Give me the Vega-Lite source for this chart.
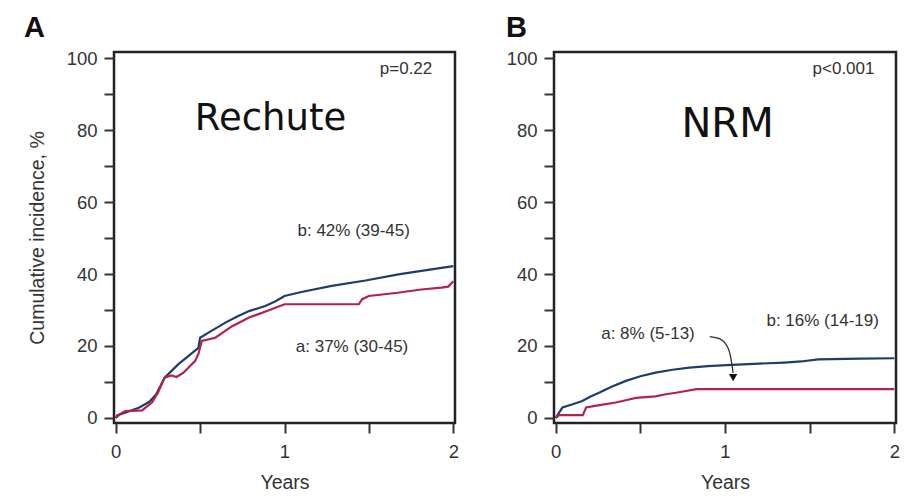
{
  "$schema": "https://vega.github.io/schema/vega-lite/v6.json",
  "background": "white",
  "padding": {"left": 22, "top": 12, "right": 0, "bottom": 0},
  "spacing": 44,
  "config": {
    "view": {"stroke": "#222", "strokeWidth": 2.5},
    "font": "Liberation Sans",
    "axis": {
      "domain": false, "grid": false,
      "tickColor": "#333", "tickWidth": 2, "tickSize": 10,
      "labelFont": "Liberation Sans", "labelFontSize": 18.5, "labelColor": "#333",
      "titleFont": "Liberation Sans", "titleFontSize": 19.5, "titleFontWeight": "normal", "titleColor": "#333"
    },
    "axisX": {"labelPadding": 9, "titlePadding": 13},
    "axisY": {"labelPadding": 7, "titlePadding": 19}
  },
  "datasets": {
    "curvesA": [
      {"g": "b", "t": 0, "ci": 0}, {"g": "b", "t": 0.01, "ci": 0.8}, {"g": "b", "t": 0.06, "ci": 1.5}, {"g": "b", "t": 0.14, "ci": 2.9}, {"g": "b", "t": 0.2, "ci": 4.5}, {"g": "b", "t": 0.24, "ci": 6.6}, {"g": "b", "t": 0.29, "ci": 11.2}, {"g": "b", "t": 0.37, "ci": 14.9}, {"g": "b", "t": 0.49, "ci": 19.5}, {"g": "b", "t": 0.5, "ci": 22.3}, {"g": "b", "t": 0.56, "ci": 24}, {"g": "b", "t": 0.65, "ci": 26.5}, {"g": "b", "t": 0.72, "ci": 28.2}, {"g": "b", "t": 0.79, "ci": 29.7}, {"g": "b", "t": 0.886, "ci": 31.1}, {"g": "b", "t": 0.95, "ci": 32.5}, {"g": "b", "t": 1.0, "ci": 33.9}, {"g": "b", "t": 1.1, "ci": 35}, {"g": "b", "t": 1.28, "ci": 36.7}, {"g": "b", "t": 1.48, "ci": 38.2}, {"g": "b", "t": 1.675, "ci": 39.9}, {"g": "b", "t": 1.87, "ci": 41.3}, {"g": "b", "t": 2.0, "ci": 42.2},
      {"g": "a", "t": 0, "ci": 0}, {"g": "a", "t": 0.03, "ci": 1.2}, {"g": "a", "t": 0.057, "ci": 1.9}, {"g": "a", "t": 0.156, "ci": 2.1}, {"g": "a", "t": 0.215, "ci": 4.3}, {"g": "a", "t": 0.25, "ci": 7}, {"g": "a", "t": 0.29, "ci": 11.2}, {"g": "a", "t": 0.33, "ci": 11.8}, {"g": "a", "t": 0.36, "ci": 11.4}, {"g": "a", "t": 0.4, "ci": 12.5}, {"g": "a", "t": 0.47, "ci": 15.8}, {"g": "a", "t": 0.49, "ci": 17.8}, {"g": "a", "t": 0.51, "ci": 21.4}, {"g": "a", "t": 0.59, "ci": 22.3}, {"g": "a", "t": 0.69, "ci": 25.5}, {"g": "a", "t": 0.79, "ci": 27.9}, {"g": "a", "t": 0.9, "ci": 29.8}, {"g": "a", "t": 1.0, "ci": 31.6}, {"g": "a", "t": 1.05, "ci": 31.6}, {"g": "a", "t": 1.44, "ci": 31.6}, {"g": "a", "t": 1.46, "ci": 33}, {"g": "a", "t": 1.5, "ci": 33.9}, {"g": "a", "t": 1.67, "ci": 34.8}, {"g": "a", "t": 1.81, "ci": 35.7}, {"g": "a", "t": 1.93, "ci": 36.2}, {"g": "a", "t": 1.97, "ci": 36.5}, {"g": "a", "t": 2.0, "ci": 38}
    ],
    "curvesB": [
      {"g": "b", "t": 0, "ci": 0}, {"g": "b", "t": 0.02, "ci": 1.5}, {"g": "b", "t": 0.04, "ci": 2.9}, {"g": "b", "t": 0.1, "ci": 3.8}, {"g": "b", "t": 0.157, "ci": 4.7}, {"g": "b", "t": 0.2, "ci": 5.8}, {"g": "b", "t": 0.256, "ci": 7.0}, {"g": "b", "t": 0.33, "ci": 8.7}, {"g": "b", "t": 0.415, "ci": 10.3}, {"g": "b", "t": 0.5, "ci": 11.6}, {"g": "b", "t": 0.59, "ci": 12.6}, {"g": "b", "t": 0.69, "ci": 13.4}, {"g": "b", "t": 0.79, "ci": 14.0}, {"g": "b", "t": 0.9, "ci": 14.4}, {"g": "b", "t": 1.01, "ci": 14.7}, {"g": "b", "t": 1.2, "ci": 15.1}, {"g": "b", "t": 1.35, "ci": 15.4}, {"g": "b", "t": 1.45, "ci": 15.7}, {"g": "b", "t": 1.55, "ci": 16.3}, {"g": "b", "t": 1.8, "ci": 16.5}, {"g": "b", "t": 2.0, "ci": 16.6},
      {"g": "a", "t": 0, "ci": 0}, {"g": "a", "t": 0.02, "ci": 0.8}, {"g": "a", "t": 0.16, "ci": 0.8}, {"g": "a", "t": 0.18, "ci": 2.9}, {"g": "a", "t": 0.25, "ci": 3.5}, {"g": "a", "t": 0.355, "ci": 4.3}, {"g": "a", "t": 0.42, "ci": 5}, {"g": "a", "t": 0.474, "ci": 5.6}, {"g": "a", "t": 0.59, "ci": 6.0}, {"g": "a", "t": 0.65, "ci": 6.6}, {"g": "a", "t": 0.71, "ci": 7.0}, {"g": "a", "t": 0.77, "ci": 7.5}, {"g": "a", "t": 0.83, "ci": 8.0}, {"g": "a", "t": 2.0, "ci": 8.0}
    ],
    "notesA": [
      {"t": 1.72, "v": 96.9, "label": "p=0.22"},
      {"t": 1.41, "v": 52, "label": "b: 42% (39-45)"},
      {"t": 1.40, "v": 19.7, "label": "a: 37% (30-45)"}
    ],
    "notesB": [
      {"t": 1.70, "v": 96.9, "label": "p<0.001"},
      {"t": 0.545, "v": 23.3, "label": "a: 8% (5-13)"},
      {"t": 1.577, "v": 27, "label": "b: 16% (14-19)"}
    ],
    "arrowB": [
      {"t": 0.91, "v": 22.6}, {"t": 0.97, "v": 22.0}, {"t": 1.02, "v": 19.2}, {"t": 1.042, "v": 14.5}, {"t": 1.048, "v": 12.5}
    ]
  },
  "hconcat": [
    {
      "width": 341, "height": 371,
      "title": {"text": "A", "anchor": "start", "frame": "group", "dx": -90, "offset": 6, "fontSize": 29, "fontWeight": "bold", "font": "Liberation Sans", "color": "#111"},
      "encoding": {
        "x": {"field": "t", "type": "quantitative", "scale": {"domain": [-0.01, 2.01], "nice": false}, "axis": {"values": [0, 0.5, 1, 1.5, 2], "labelExpr": "datum.value % 1 == 0 ? format(datum.value, 'd') : ''", "title": "Years"}},
        "y": {"field": "ci", "type": "quantitative", "scale": {"domain": [-1.4, 101.7], "nice": false}, "axis": {"values": [0, 10, 20, 30, 40, 50, 60, 70, 80, 90, 100], "labelExpr": "datum.value % 20 == 0 ? datum.label : ''", "title": "Cumulative incidence, %"}}
      },
      "layer": [
        {
          "data": {"name": "curvesA"},
          "mark": {"type": "line", "strokeWidth": 2.2},
          "encoding": {"color": {"field": "g", "type": "nominal", "scale": {"domain": ["a", "b"], "range": ["#b5214a", "#1e3c6c"]}, "legend": null}}
        },
        {
          "data": {"name": "notesA"},
          "mark": {"type": "text", "font": "Liberation Sans", "fontSize": 17, "color": "#333"},
          "encoding": {"x": {"field": "t", "type": "quantitative"}, "y": {"field": "v", "type": "quantitative"}, "text": {"field": "label"}}
        },
        {
          "data": {"values": [{"t": 0.917, "v": 83, "label": "Rechute"}]},
          "mark": {"type": "text", "font": "DejaVu Sans", "fontSize": 37, "color": "#111"},
          "encoding": {"x": {"field": "t", "type": "quantitative"}, "y": {"field": "v", "type": "quantitative"}, "text": {"field": "label"}}
        }
      ]
    },
    {
      "width": 342, "height": 371,
      "title": {"text": "B", "anchor": "start", "frame": "group", "dx": -48, "offset": 6, "fontSize": 29, "fontWeight": "bold", "font": "Liberation Sans", "color": "#111"},
      "encoding": {
        "x": {"field": "t", "type": "quantitative", "scale": {"domain": [-0.01, 2.01], "nice": false}, "axis": {"values": [0, 0.5, 1, 1.5, 2], "labelExpr": "datum.value % 1 == 0 ? format(datum.value, 'd') : ''", "title": "Years"}},
        "y": {"field": "ci", "type": "quantitative", "scale": {"domain": [-1.4, 101.7], "nice": false}, "axis": {"values": [0, 10, 20, 30, 40, 50, 60, 70, 80, 90, 100], "labelExpr": "datum.value % 20 == 0 ? datum.label : ''", "title": null}}
      },
      "layer": [
        {
          "data": {"name": "curvesB"},
          "mark": {"type": "line", "strokeWidth": 2.2},
          "encoding": {"color": {"field": "g", "type": "nominal", "scale": {"domain": ["a", "b"], "range": ["#b5214a", "#1e3c6c"]}, "legend": null}}
        },
        {
          "data": {"name": "arrowB"},
          "mark": {"type": "line", "interpolate": "monotone", "strokeWidth": 1.3, "color": "#333"},
          "encoding": {"x": {"field": "t", "type": "quantitative"}, "y": {"field": "v", "type": "quantitative"}}
        },
        {
          "data": {"values": [{"t": 1.048, "v": 11.2}]},
          "mark": {"type": "point", "shape": "triangle-down", "filled": true, "size": 70, "color": "#111", "opacity": 1},
          "encoding": {"x": {"field": "t", "type": "quantitative"}, "y": {"field": "v", "type": "quantitative"}}
        },
        {
          "data": {"name": "notesB"},
          "mark": {"type": "text", "font": "Liberation Sans", "fontSize": 17, "color": "#333"},
          "encoding": {"x": {"field": "t", "type": "quantitative"}, "y": {"field": "v", "type": "quantitative"}, "text": {"field": "label"}}
        },
        {
          "data": {"values": [{"t": 1.015, "v": 81.5, "label": "NRM"}]},
          "mark": {"type": "text", "font": "DejaVu Sans", "fontSize": 40, "color": "#111"},
          "encoding": {"x": {"field": "t", "type": "quantitative"}, "y": {"field": "v", "type": "quantitative"}, "text": {"field": "label"}}
        }
      ]
    }
  ]
}
